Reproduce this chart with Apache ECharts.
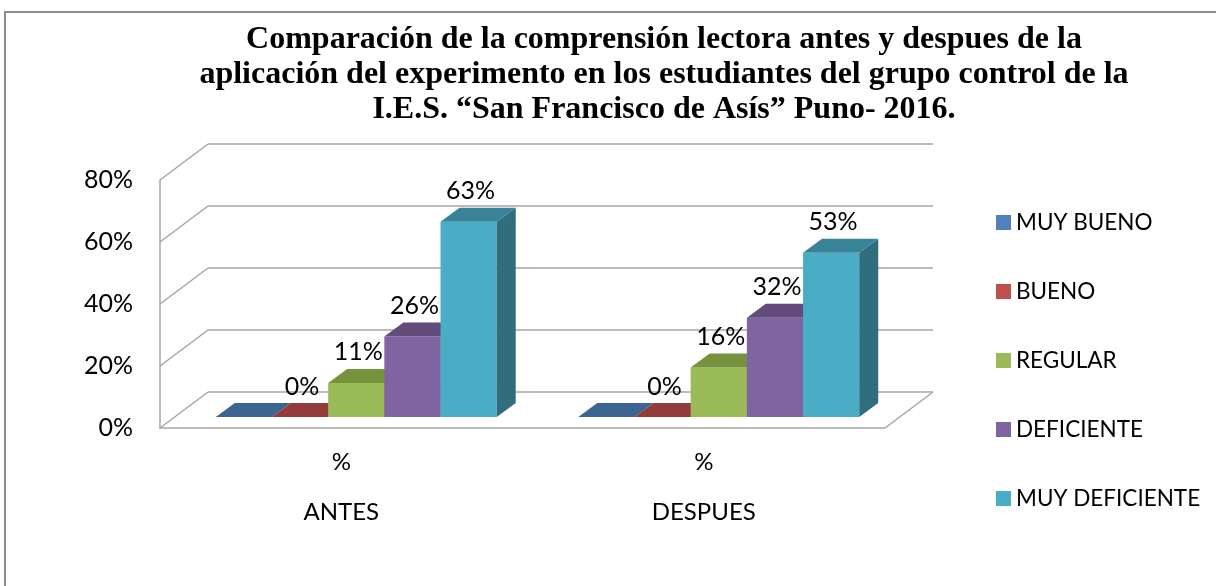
<!DOCTYPE html>
<html>
<head>
<meta charset="utf-8">
<script src="https://cdn.jsdelivr.net/npm/echarts@6/dist/echarts.min.js"></script>
<style>
  html, body { margin: 0; padding: 0; background: #fff; }
  #chart { width: 1216px; height: 586px; }
</style>
</head>
<body>
<div id="chart"></div>
<script>
// datos
var groups = ['ANTES', 'DESPUES'];
var subLabels = ['%', '%'];
var seriesNames = ['MUY BUENO', 'BUENO', 'REGULAR', 'DEFICIENTE', 'MUY DEFICIENTE'];
var muyBueno = [0, 0];
var bueno = [0, 0];
var regular = [11, 16];
var deficiente = [26, 32];
var muyDeficiente = [63, 53];
var yTicks = [0, 20, 40, 60, 80];
var titleLines = [
  'Comparación de la comprensión lectora antes y despues de la',
  'aplicación del experimento en los estudiantes del grupo control de la',
  'I.E.S. “San Francisco de Asís” Puno- 2016.'
];

var seriesValues = [muyBueno, bueno, regular, deficiente, muyDeficiente];
var showLabel = [false, true, true, true, true];
var palette = [
  { front: '#4F81BD', top: '#3D6591', side: '#345780' },
  { front: '#C0504D', top: '#943C3A', side: '#853634' },
  { front: '#9BBB59', top: '#76923C', side: '#6A8436' },
  { front: '#8064A2', top: '#634B7C', side: '#574370' },
  { front: '#4BACC6', top: '#388397', side: '#306D7D' }
];

// proyeccion 3D (pixeles)
var WALL_DX = 48, WALL_DY = -36;
var BAR_OFF_DX = 15, BAR_OFF_DY = -11;
var BAR_DX = 19, BAR_DY = -14;
var BAR_FRAC = 0.155;
var FONT = 'Lato, "Noto Sans", sans-serif';
var gridStyle = { stroke: '#a6a6a6', lineWidth: 1.5 };

var chart = echarts.init(document.getElementById('chart'));

function frameRender(params, api) {
  var v = api.value(1);
  var cs = params.coordSys;
  var y = api.coord([0, v])[1];
  var xl = cs.x, xr = cs.x + cs.width;
  var children = [
    { type: 'line', shape: { x1: xl, y1: y, x2: xl + WALL_DX, y2: y + WALL_DY }, style: gridStyle },
    { type: 'line', shape: { x1: xl + WALL_DX, y1: y + WALL_DY, x2: xr + WALL_DX, y2: y + WALL_DY }, style: gridStyle }
  ];
  if (v === 0) {
    children.push({ type: 'line', shape: { x1: xr, y1: y, x2: xr + WALL_DX, y2: y + WALL_DY }, style: gridStyle });
  }
  return { type: 'group', children: children };
}

function barRender(si) {
  return function (params, api) {
    var ci = api.value(0), v = api.value(1);
    var base = api.coord([ci, 0]);
    var top = api.coord([ci, v]);
    var band = api.size([1, 0])[0];
    var w = band * BAR_FRAC;
    var x0 = base[0] - 2.5 * w + si * w + BAR_OFF_DX;
    var x1 = x0 + w;
    var yb = base[1] + BAR_OFF_DY;
    var yt = top[1] + BAR_OFF_DY;
    var c = palette[si];
    var children = [
      { type: 'polygon', shape: { points: [[x0, yb], [x1, yb], [x1, yt], [x0, yt]] }, style: { fill: c.front } },
      { type: 'polygon', shape: { points: [[x1, yb], [x1 + BAR_DX, yb + BAR_DY], [x1 + BAR_DX, yt + BAR_DY], [x1, yt]] }, style: { fill: c.side } },
      { type: 'polygon', shape: { points: [[x0, yt], [x1, yt], [x1 + BAR_DX, yt + BAR_DY], [x0 + BAR_DX, yt + BAR_DY]] }, style: { fill: c.top } }
    ];
    if (showLabel[si]) {
      children.push({
        type: 'text',
        style: {
          text: v + '%', x: x0 + w / 2 + 2, y: yt + BAR_DY - 4,
          align: 'center', verticalAlign: 'bottom',
          font: '25px ' + FONT, fill: '#000'
        }
      });
    }
    return { type: 'group', children: children };
  };
}

var series = [{
  type: 'custom',
  name: 'frame',
  silent: true,
  z: 1,
  renderItem: frameRender,
  data: yTicks.map(function (v) { return [0, v]; })
}];
seriesNames.forEach(function (name, si) {
  series.push({
    type: 'custom',
    name: name,
    z: 2,
    itemStyle: { color: palette[si].front },
    renderItem: barRender(si),
    data: seriesValues[si].map(function (v, i) { return [i, v]; })
  });
});

chart.setOption({
  animation: false,
  backgroundColor: '#fff',
  graphic: [
    {
      type: 'rect', silent: true, z: 0,
      shape: { x: 5, y: 12, width: 1400, height: 800 },
      style: { fill: 'none', stroke: '#8c8c8c', lineWidth: 2 }
    },
    {
      type: 'text', x: 664, y: 22,
      style: {
        text: titleLines.join('\n'),
        align: 'center', verticalAlign: 'top',
        font: 'bold 32px "Liberation Serif", "DejaVu Serif", serif',
        lineHeight: 35, fill: '#000'
      }
    }
  ],
  legend: {
    orient: 'vertical',
    left: 991,
    top: 205,
    itemWidth: 15,
    itemHeight: 15,
    itemGap: 44,
    icon: 'rect',
    data: seriesNames,
    textStyle: { fontFamily: FONT, fontSize: 22.5, lineHeight: 25, color: '#000' }
  },
  grid: { left: 160, top: 180, width: 725, height: 248 },
  xAxis: {
    type: 'category',
    data: groups,
    axisLine: { lineStyle: { color: '#a6a6a6', width: 1.5 } },
    axisTick: { length: 102, lineStyle: { color: '#a6a6a6', width: 1.5 } },
    axisLabel: {
      margin: 9,
      formatter: function (val, i) { return subLabels[i] + '\n' + val; },
      fontFamily: FONT, fontSize: 24, lineHeight: 50, color: '#000'
    },
    splitLine: { show: false }
  },
  yAxis: {
    type: 'value',
    min: 0, max: 80, interval: 20,
    axisLine: { show: true, lineStyle: { color: '#a6a6a6', width: 1.5 } },
    axisTick: { show: false },
    axisLabel: {
      margin: 27,
      formatter: '{value}%',
      fontFamily: FONT, fontSize: 25, color: '#000'
    },
    splitLine: { show: false }
  },
  series: series
});
</script>
</body>
</html>
